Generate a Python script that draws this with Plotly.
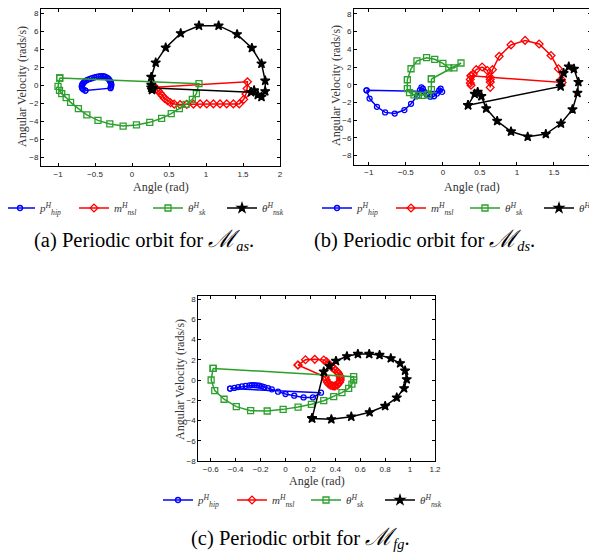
import plotly.graph_objects as go

# page body has an 8px default margin; size the figure so it ends exactly at 597x557
OFF = 8
W, H = 597 - OFF, 557 - OFF

# ---------------- data: (a) M_as ----------------
a_hip_x = [-0.63, -0.66, -0.675, -0.68, -0.675, -0.665, -0.65, -0.63, -0.60, -0.57, -0.54, -0.51, -0.48, -0.45, -0.42, -0.39, -0.365, -0.34, -0.32, -0.305, -0.295, -0.285, -0.28, -0.28, -0.285, -0.29]
a_hip_y = [-0.62, -0.48, -0.32, -0.16, 0.0, 0.15, 0.3, 0.45, 0.58, 0.68, 0.76, 0.84, 0.9, 0.95, 0.98, 0.97, 0.92, 0.82, 0.7, 0.55, 0.4, 0.25, 0.1, -0.05, -0.2, -0.35]
a_nsl_x = [0.31, 0.33, 0.35, 0.38, 0.41, 0.44, 0.48, 0.52, 0.57, 0.65, 0.74, 0.83, 0.92, 1.01, 1.10, 1.19, 1.28, 1.37, 1.45, 1.51, 1.54, 1.555, 1.56]
a_nsl_y = [-0.25, -0.45, -0.62, -0.9, -1.2, -1.5, -1.75, -1.97, -2.12, -2.18, -2.15, -2.12, -2.1, -2.1, -2.1, -2.1, -2.1, -2.1, -2.1, -1.6, -1.0, -0.4, 0.35]
a_sk_x = [-0.977, -1.0, -0.98, -0.95, -0.89, -0.83, -0.725, -0.61, -0.46, -0.30, -0.12, 0.06, 0.24, 0.40, 0.53, 0.64, 0.73, 0.815, 0.87, 0.905]
a_sk_y = [0.78, -0.15, -0.6, -0.96, -1.4, -1.93, -2.63, -3.33, -3.93, -4.33, -4.56, -4.44, -4.15, -3.70, -3.19, -2.63, -2.15, -1.59, -0.96, 0.15]
a_nsk_x = [0.28, 0.27, 0.26, 0.26, 0.26, 0.32, 0.455, 0.658, 0.905, 1.17, 1.42, 1.62, 1.75, 1.80, 1.80, 1.75, 1.70, 1.65, 1.61]
a_nsk_y = [-0.33, -0.55, -0.3, 0.0, 0.89, 2.48, 4.15, 5.74, 6.59, 6.59, 5.63, 4.11, 2.37, 0.48, -0.70, -1.33, -1.1, -0.6, -0.8]

# ---------------- data: (b) M_ds ----------------
b_hip_x = [-1.03, -0.99, -0.89, -0.78, -0.65, -0.52, -0.43, -0.35, -0.31, -0.29, -0.27, -0.25, -0.22, -0.17, -0.12, -0.08, -0.05, -0.03, -0.01]
b_hip_y = [-0.63, -1.56, -2.49, -3.12, -3.25, -2.86, -2.15, -1.3, -0.6, -0.3, -0.45, -0.8, -1.1, -1.35, -1.3, -1.0, -0.65, -0.45, -0.8]
b_nsl_x = [0.38, 0.37, 0.37, 0.38, 0.41, 0.45, 0.53, 0.60, 0.63, 0.64, 0.64, 0.64, 0.67, 0.76, 0.92, 1.11, 1.30, 1.46, 1.56, 1.60, 1.61]
b_nsl_y = [1.0, 0.6, 0.2, -0.05, 1.2, 1.7, 2.0, 1.6, 0.9, 0.3, -0.3, 0.6, 1.7, 3.2, 4.5, 5.0, 4.6, 3.3, 1.8, 0.6, 0.25]
b_sk_x = [-0.155, -0.155, -0.2, -0.27, -0.33, -0.39, -0.45, -0.48, -0.48, -0.43, -0.35, -0.22, -0.11, 0.0, 0.08, 0.15, 0.245]
b_sk_y = [0.65, -0.55, -1.1, -1.2, -1.2, -1.15, -0.9, -0.45, 0.56, 1.8, 2.68, 3.05, 2.87, 2.4, 1.9, 1.9, 2.45]
b_nsk_x = [0.34, 0.43, 0.47, 0.52, 0.585, 0.733, 0.92, 1.145, 1.39, 1.594, 1.75, 1.817, 1.83, 1.77, 1.70, 1.63, 1.59, 1.59]
b_nsk_y = [-2.31, -1.04, -0.82, -1.3, -2.68, -4.09, -5.28, -5.87, -5.57, -4.38, -2.79, -0.93, 0.3, 1.78, 2.04, 1.30, 0.37, -0.19]

# ---------------- data: (c) M_fg ----------------
c_hip_x = [-0.445, -0.41, -0.38, -0.35, -0.32, -0.29, -0.27, -0.25, -0.23, -0.21, -0.19, -0.17, -0.14, -0.11, -0.06, 0.0, 0.07, 0.145, 0.22, 0.285]
c_hip_y = [-0.85, -0.78, -0.7, -0.63, -0.57, -0.53, -0.5, -0.5, -0.52, -0.56, -0.62, -0.7, -0.8, -0.92, -1.15, -1.38, -1.55, -1.72, -1.72, -1.25]
c_nsl_x = [0.10, 0.16, 0.235, 0.307, 0.33, 0.35, 0.37, 0.385, 0.40, 0.415, 0.425, 0.435, 0.44, 0.44, 0.435, 0.425, 0.415, 0.40, 0.39, 0.375, 0.36, 0.345, 0.335, 0.325, 0.32]
c_nsl_y = [1.48, 2.0, 2.04, 1.98, 1.8, 1.55, 1.3, 1.15, 1.0, 0.82, 0.65, 0.42, 0.2, 0.0, -0.2, -0.35, -0.5, -0.57, -0.6, -0.57, -0.5, -0.38, -0.2, 0.05, 0.3]
c_sk_x = [-0.581, -0.597, -0.568, -0.493, -0.395, -0.28, -0.147, -0.019, 0.101, 0.208, 0.307, 0.387, 0.453, 0.507, 0.533, 0.547, 0.547]
c_sk_y = [1.15, 0.0, -1.05, -1.9, -2.63, -3.03, -3.06, -2.9, -2.67, -2.4, -2.04, -1.65, -1.25, -0.82, -0.4, 0.0, 0.33]
c_nsk_x = [0.213, 0.368, 0.528, 0.675, 0.80, 0.893, 0.952, 0.973, 0.96, 0.92, 0.845, 0.755, 0.672, 0.581, 0.493, 0.405, 0.352, 0.307]
c_nsk_y = [-3.79, -3.88, -3.62, -3.19, -2.57, -1.74, -0.82, 0.07, 0.92, 1.65, 2.14, 2.47, 2.57, 2.57, 2.34, 1.88, 1.38, 0.82]

names = ["<i>p</i><sup><i>H</i></sup><sub><i>hip</i></sub>",
         "<i>m</i><sup><i>H</i></sup><sub><i>nsl</i></sub>",
         "<i>θ</i><sup><i>H</i></sup><sub><i>sk</i></sub>",
         "<i>θ</i><sup><i>H</i></sup><sub><i>nsk</i></sub>"]
colors = ["#0000ff", "#ff0000", "#2ca02c", "#000000"]
symbols = ["circle-open", "diamond-open", "square-open", "star"]
msizes = [5, 6, 6, 7]

panels = [
    ([(a_hip_x, a_hip_y), (a_nsl_x, a_nsl_y), (a_sk_x, a_sk_y), (a_nsk_x, a_nsk_y)], "x", "y", "legend"),
    ([(b_hip_x, b_hip_y), (b_nsl_x, b_nsl_y), (b_sk_x, b_sk_y), (b_nsk_x, b_nsk_y)], "x2", "y2", "legend2"),
    ([(c_hip_x, c_hip_y), (c_nsl_x, c_nsl_y), (c_sk_x, c_sk_y), (c_nsk_x, c_nsk_y)], "x3", "y3", "legend3"),
]

fig = go.Figure()
for series, xa, ya, lg in panels:
    for i, (xs, ys) in enumerate(series):
        tr = dict(
            x=list(xs) + [xs[0]], y=list(ys) + [ys[0]],
            mode="lines+markers", name=names[i], legend=lg,
            xaxis=xa, yaxis=ya,
            line=dict(color=colors[i], width=1.5),
            marker=dict(symbol=symbols[i], size=msizes[i], color=colors[i],
                        line=dict(color=colors[i], width=1.3)),
        )
        if lg == "legend2" and i == 3:
            tr["legendwidth"] = 5  # last entry is cut off by the page edge, as in the original
        fig.add_trace(go.Scatter(**tr))

def px(v):
    return min(1.0, max(0.0, (v - OFF) / W))

def py(v):
    return min(1.0, max(0.0, 1 - (v - OFF) / H))

def lx(v):
    return (v - OFF) / W

tickfont = dict(family="Liberation Sans", size=8, color="#262626")

def axis(domain, rng, anchor, tickvals):
    return dict(domain=domain, range=rng, anchor=anchor, tickvals=tickvals,
                showgrid=False, zeroline=False, showline=True, linecolor="#000",
                linewidth=1, mirror="ticks", ticks="inside", ticklen=3,
                tickcolor="#000", tickfont=tickfont)

xt_ab = [-1, -0.5, 0, 0.5, 1, 1.5, 2]
xt_c = [-0.6, -0.4, -0.2, 0, 0.2, 0.4, 0.6, 0.8, 1, 1.2]
yt = [-8, -6, -4, -2, 0, 2, 4, 6, 8]

layout = dict(
    width=W, height=H, margin=dict(l=0, r=0, t=0, b=0, autoexpand=False),
    paper_bgcolor="white", plot_bgcolor="white", showlegend=True,
    xaxis=axis([px(41), px(280)], [-1.23, 2], "y", xt_ab),
    yaxis=axis([py(166), py(8.5)], [-9, 8.5], "x", yt),
    xaxis2=axis([px(354), px(591)], [-1.2, 2], "y2", xt_ab),
    yaxis2=axis([py(164.5), py(8.5)], [-9, 8.6], "x2", yt),
    xaxis3=axis([px(198.3), px(435)], [-0.7, 1.2], "y3", xt_c),
    yaxis3=axis([py(461), py(296)], [-8, 8.3], "x3", yt),
)

legfont = dict(family="Liberation Serif", size=11, color="#333")
def leg(x, y):
    return dict(orientation="h", x=lx(x), y=py(y), xanchor="left", yanchor="middle",
                font=legfont, bgcolor="rgba(0,0,0,0)", borderwidth=0,
                entrywidth=29, itemwidth=30, tracegroupgap=0)

layout["legend"] = leg(0, 208)
layout["legend2"] = leg(317, 208)
layout["legend3"] = leg(158, 500)

fig.update_layout(**layout)

titlefont = dict(family="Liberation Serif", size=12, color="#333")
def ann(text, x, y, angle=0, font=titlefont):
    fig.add_annotation(text=text, x=lx(x), y=py(y), xref="paper", yref="paper",
                       showarrow=False, textangle=angle, font=font,
                       xanchor="center", yanchor="middle")

ann("Angle (rad)", 160.5, 187)
ann("Angle (rad)", 472.5, 187)
ann("Angle (rad)", 316.7, 481)
ann("Angular Velocity (rads/s)", 22, 87, -90)
ann("Angular Velocity (rads/s)", 336, 86, -90)
ann("Angular Velocity (rads/s)", 180, 380, -90)

capfont = dict(family="Liberation Serif", size=20.5, color="#000")
M = "<span style='font-size:24px'><i>ℳ</i></span>"
ann("(a) Periodic orbit for " + M + "<sub><i>as</i></sub>.", 144, 240, font=capfont)
ann("(b) Periodic orbit for " + M + "<sub><i>ds</i></sub>.", 424, 240, font=capfont)
ann("(c) Periodic orbit for " + M + "<sub><i>fg</i></sub>.", 300, 538, font=capfont)

fig.write_html("out.html")
